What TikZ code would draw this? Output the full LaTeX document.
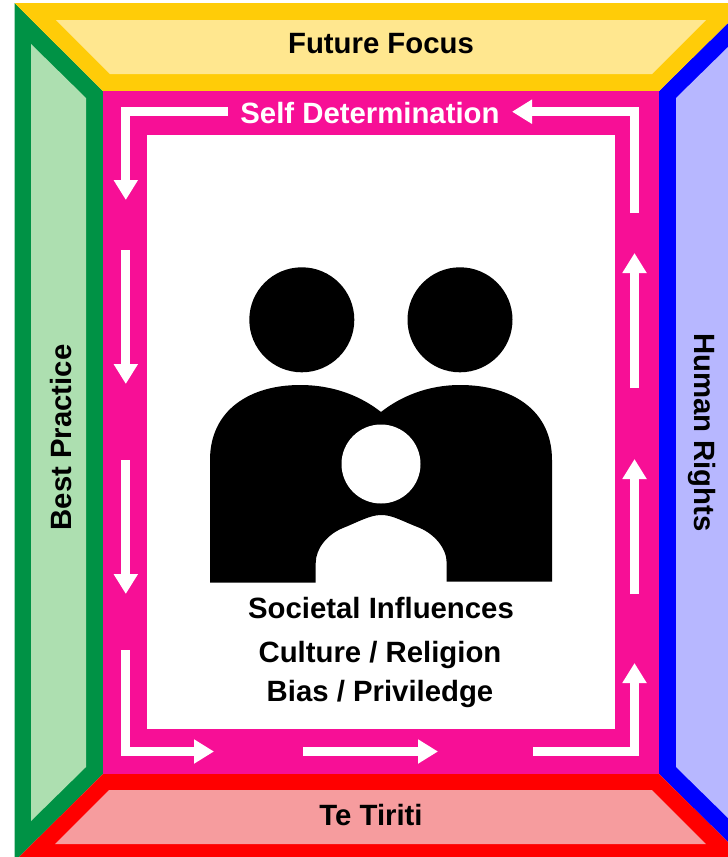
\documentclass[tikz,border=0pt]{standalone}
\usepackage{fontspec}
\setmainfont{Liberation Sans}
\usetikzlibrary{arrows.meta}
\definecolor{cYellow}{HTML}{FFCC08}
\definecolor{cYellowL}{HTML}{FFE78F}
\definecolor{cGreen}{HTML}{009245}
\definecolor{cGreenL}{HTML}{ADDFB0}
\definecolor{cBlue}{HTML}{0000FF}
\definecolor{cBlueL}{HTML}{B7B7FF}
\definecolor{cRed}{HTML}{FF0000}
\definecolor{cRedL}{HTML}{F69C9E}
\definecolor{cPink}{HTML}{F70F96}
\tikzset{
  flowarrow/.style={draw=white,line width=6.5pt,line cap=butt,line join=miter,
    -{Triangle[length=15pt,width=17.25pt,fill=white]}},
  label/.style={font=\bfseries\fontsize{22}{26}\selectfont,inner sep=0pt,text=black,anchor=base}
}
\begin{document}
\begin{tikzpicture}[x=0.75pt,y=-0.75pt]
\useasboundingbox (0,0) rectangle (728,857);
\fill[white] (0,0) rectangle (728,857);
% frame
\fill[cGreen] (14.5,3) -- (103,91) -- (103,774) -- (19,857) -- (14.5,857) -- cycle;
\fill[cGreenL] (31,44) -- (86,98) -- (86,767) -- (31,821) -- cycle;
\fill[cBlue] (728,23) -- (659,91) -- (659,774) -- (728,842) -- cycle;
\fill[cBlueL] (728,47) -- (676,98) -- (676,767) -- (728,818) -- cycle;
\fill[cYellow] (14.5,3) -- (728,3) -- (728,23) -- (659,91) -- (103,91) -- cycle;
\fill[cYellowL] (56,20) -- (706,20) -- (652,74) -- (110,74) -- cycle;
\fill[cRed] (19,857) -- (103,774) -- (659,774) -- (728,842) -- (728,857) -- cycle;
\fill[cRedL] (55,844) -- (109,790) -- (652,790) -- (706,844) -- cycle;
% centre
\fill[cPink] (103,91) rectangle (659,774);
\fill[white] (147,135) rectangle (615,729);
% arrows
\draw[flowarrow] (227.5,111.7) -- (125.8,111.7) -- (125.8,200);
\draw[flowarrow] (125.8,250) -- (125.8,384);
\draw[flowarrow] (125.8,460) -- (125.8,594);
\draw[flowarrow] (125.8,650) -- (125.8,751.5) -- (214,751.5);
\draw[flowarrow] (303,751.5) -- (438,751.5);
\draw[flowarrow] (533,751.5) -- (634.5,751.5) -- (634.5,663);
\draw[flowarrow] (634.5,594) -- (634.5,459);
\draw[flowarrow] (634.5,388) -- (634.5,253);
\draw[flowarrow] (634.5,213) -- (634.5,111.7) -- (512,111.7);
% people
\fill[black] (301.8,319.8) circle[radius=52.5];
\fill[black] (460,319.8) circle[radius=52.5];
\fill[black] (210,582.5) -- (210,460)
  .. controls (210,410) and (250,385) .. (300,385)
  .. controls (335,385) and (362,397) .. (381,412)
  .. controls (400,397) and (427,385) .. (460,385)
  .. controls (512,385) and (552,410) .. (552,460)
  -- (552,581.5) -- (446.7,581.5) -- (446.7,563)
  .. controls (446.7,548) and (434,533) .. (416.7,526.7)
  .. controls (400,520) and (392,515) .. (381,515)
  .. controls (370,515) and (358,522) .. (343,528)
  .. controls (328,534) and (315.7,548) .. (315.7,563)
  -- (315.7,582.5) -- cycle;
\fill[white] (381,464) circle[radius=39.5];
% labels
\node[label] (future) at (381,53) {Future Focus};
\node[label,text=white] (selfdet) at (370,123.5) {Self Determination};
\node[label,rotate=90] (best) at (71,437.5) {Best Practice};
\node[label,rotate=-90] (rights) at (694,432.5) {Human Rights};
\node[label] (tiriti) at (371,825.5) {Te Tiriti};
\node[label] (soc) at (381,618.5) {Societal Influences};
\node[label] (cult) at (380,662.5) {Culture / Religion};
\node[label] (bias) at (380,701) {Bias / Priviledge};
\end{tikzpicture}
\end{document}
